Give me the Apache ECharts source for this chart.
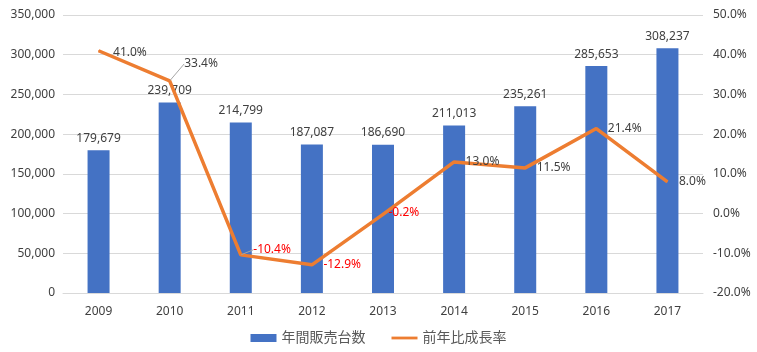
<!DOCTYPE html>
<html>
<head>
<meta charset="utf-8">
<script src="https://cdn.jsdelivr.net/npm/echarts@6/dist/echarts.min.js"></script>
<style>
  html, body { margin: 0; padding: 0; background: #fff; }
  #main { width: 757px; height: 352px; }
</style>
</head>
<body>
<div id="main"></div>
<script>
// 年別データ
const years = ["2009", "2010", "2011", "2012", "2013", "2014", "2015", "2016", "2017"];
const sales = [179679, 239709, 214799, 187087, 186690, 211013, 235261, 285653, 308237];
const growth = [41.0, 33.4, -10.4, -12.9, -0.2, 13.0, 11.5, 21.4, 8.0];

const FONT = '"Noto Sans", "Noto Sans CJK JP", sans-serif';
const fmtNum = (v) => String(v).replace(/\B(?=(\d{3})+(?!\d))/g, ",");

const chart = echarts.init(document.getElementById("main"));

const growthData = growth.map((v, i) => {
  const item = { value: v };
  if (v < 0) item.label = { color: "#FF0000" };
  // 引き出し線は 2010 と 2011 だけ
  if (i === 1 || i === 2) item.labelLine = { show: true };
  return item;
});

chart.setOption({
  animation: false,
  textStyle: { fontFamily: FONT },
  grid: { left: 63, right: 54, top: 15, bottom: 59 },
  legend: {
    bottom: 2,
    left: "center",
    itemGap: 26,
    itemWidth: 26,
    itemHeight: 8,
    textStyle: { color: "#595959", fontSize: 14, fontFamily: FONT },
    data: [
      { name: "年間販売台数", icon: "rect" },
      { name: "前年比成長率", icon: "path://M0,0 H28 V3 H0 Z" },
    ],
  },
  xAxis: {
    type: "category",
    data: years,
    axisLine: { lineStyle: { color: "#D9D9D9" } },
    axisTick: { show: false },
    axisLabel: { color: "#404040", fontSize: 12, margin: 13 },
  },
  yAxis: [
    {
      type: "value",
      min: 0,
      max: 350000,
      interval: 50000,
      axisLine: { show: false },
      axisTick: { show: false },
      splitLine: { lineStyle: { color: "#D9D9D9" } },
      axisLabel: { color: "#404040", fontSize: 12, margin: 8, formatter: fmtNum },
    },
    {
      type: "value",
      min: -20,
      max: 50,
      interval: 10,
      axisLine: { show: false },
      axisTick: { show: false },
      splitLine: { show: false },
      axisLabel: { color: "#404040", fontSize: 12, margin: 10, formatter: (v) => v.toFixed(1) + "%" },
    },
  ],
  series: [
    {
      name: "年間販売台数",
      type: "bar",
      data: sales,
      barWidth: 22,
      itemStyle: { color: "#4472C4" },
      label: {
        show: true,
        position: "top",
        distance: 6,
        color: "#404040",
        fontSize: 12,
        formatter: (p) => fmtNum(p.value),
      },
    },
    {
      name: "前年比成長率",
      type: "line",
      yAxisIndex: 1,
      data: growthData,
      symbol: "circle",
      symbolSize: 1,
      lineStyle: { color: "#ED7D31", width: 3.5 },
      itemStyle: { color: "#ED7D31" },
      label: {
        show: true,
        position: "right",
        distance: 8,
        color: "#404040",
        fontSize: 12,
        formatter: (p) => p.value.toFixed(1) + "%",
      },
      labelLayout: (p) => {
        if (p.dataIndex === 0) return { dx: 6, dy: 2 };
        if (p.dataIndex === 1) return { dx: 6, dy: -17 };
        if (p.dataIndex === 2) return { dx: 4, dy: -5 };
        if (p.dataIndex === 4) return { dx: -3, dy: -2 };
        return { dx: 3 };
      },
      labelLine: { show: false, lineStyle: { color: "#A6A6A6", width: 1 } },
    },
  ],
});
</script>
</body>
</html>
